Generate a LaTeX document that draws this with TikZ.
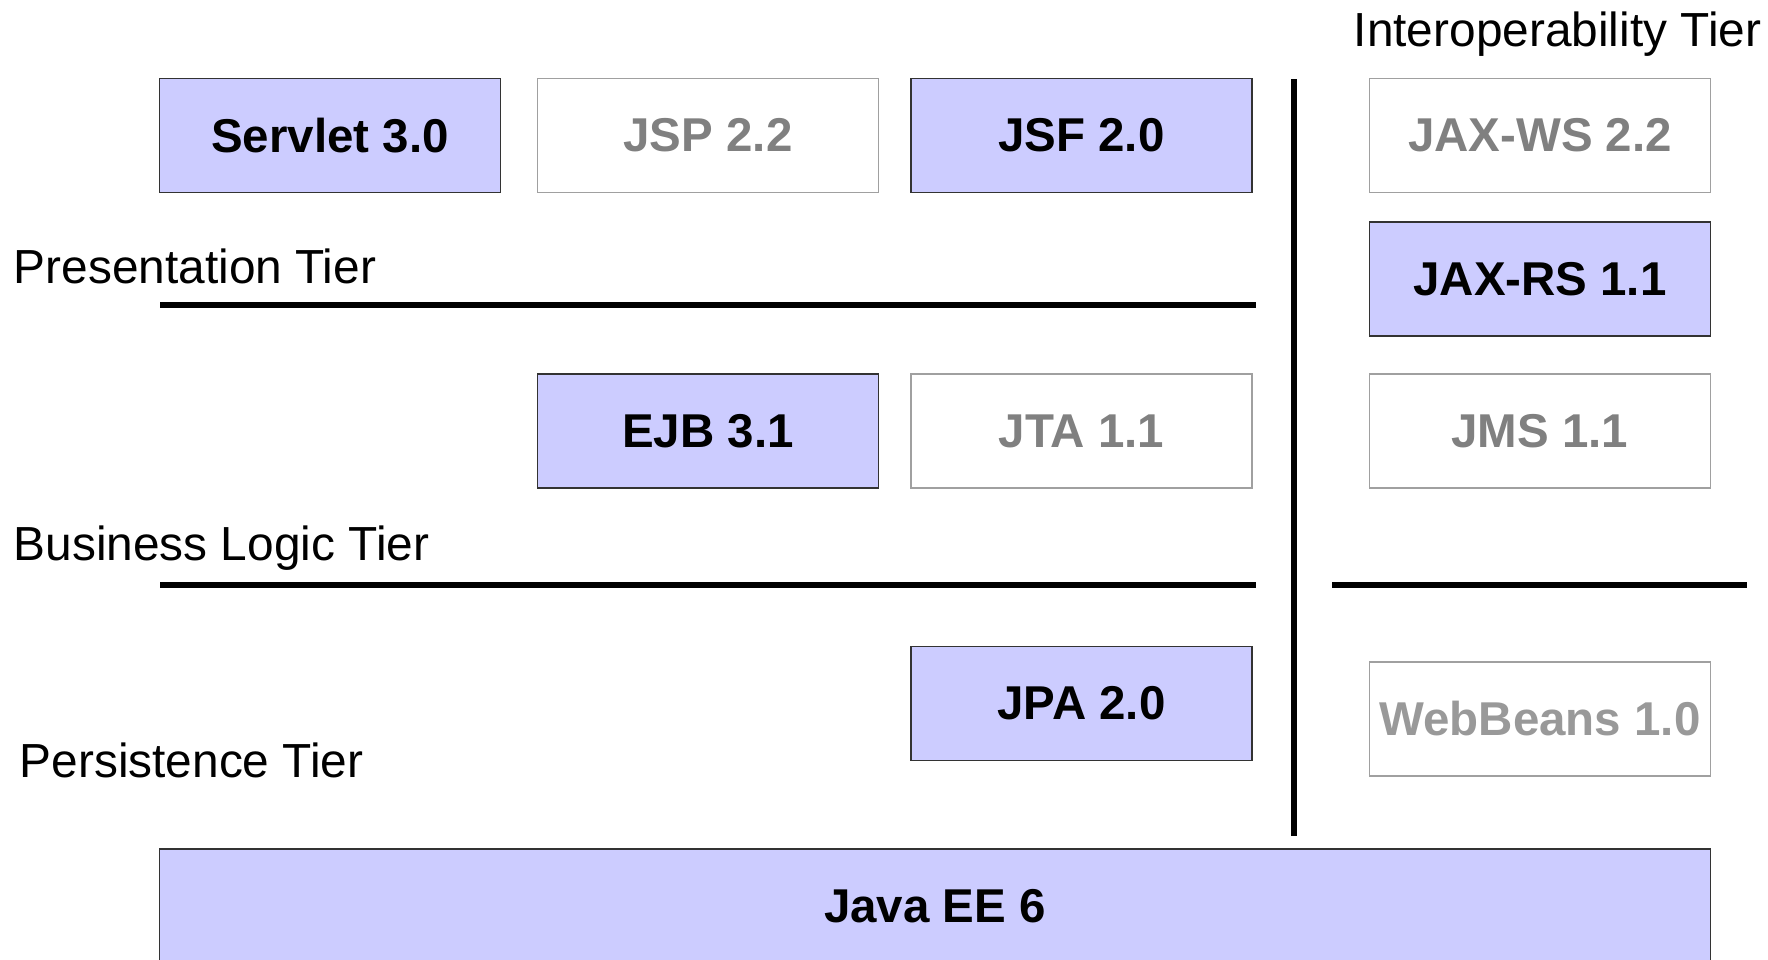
\documentclass[tikz,border=0pt]{standalone}
\usepackage{fontspec}
\setmainfont{Liberation Sans}
\usepackage{tikz}
\definecolor{specfill}{HTML}{CCCCFF}
\definecolor{specedge}{HTML}{333333}
\definecolor{greyedge}{HTML}{A0A0A0}
\definecolor{greytext}{HTML}{808080}
\definecolor{paletext}{HTML}{999999}
\tikzset{
  % spec boxes
  spec box/.style = {
     minimum width=3.41cm,
     minimum height=1.14cm,
     inner sep=0pt,
     line width=0.5pt,
     font=\fontsize{13.5}{16}\selectfont\bfseries,
  },
  core spec/.style = {
     spec box,
     fill=specfill,
     draw=specedge,
     text=black,
  },
  grey spec/.style = {
     spec box,
     fill=white,
     draw=greyedge,
     text=#1,
  },
  grey spec/.default=greytext,
  % tier names
  tier label/.style = {
     anchor=base west,
     inner sep=0pt,
     font=\fontsize{13.6}{16}\selectfont,
  },
  % separators
  tier line/.style = {
     line width=1.9pt,
  },
}
\begin{document}
\begin{tikzpicture}[x=0.01cm, y=-0.01cm]
      \useasboundingbox (0,0) rectangle (1768,959);
      \node[core spec] (servlet) at (330,135.5) {Servlet 3.0};
      \node[grey spec] (jsp) at (708,135.5) {JSP 2.2};
      \node[core spec] (jsf) at (1081.5,135.5) {JSF 2.0};
      \node[grey spec] (jaxws) at (1540,135.5) {JAX-WS 2.2};
      \node[core spec] (jaxrs) at (1540,279) {JAX-RS 1.1};
      \node[core spec] (ejb) at (708,431) {EJB 3.1};
      \node[grey spec] (jta) at (1081.5,431) {JTA 1.1};
      \node[grey spec] (jms) at (1540,431) {JMS 1.1};
      \node[core spec] (jpa) at (1081.5,703.5) {JPA 2.0};
      \node[grey spec=paletext] (webbeans) at (1540,719) {WebBeans 1.0};
      \node[core spec, minimum width=15.50cm] (javaee) at (935,906) {Java EE 6};
      \node[tier label] (presentation) at (13,283) {Presentation Tier};
      \node[tier label] (business) at (13,560) {Business Logic Tier};
      \node[tier label] (persistence) at (19,777) {Persistence Tier};
      \node[tier label, anchor=base east] (interop) at (1762,46) {Interoperability Tier};
      \coordinate (p west) at (160,305);
      \coordinate (p east) at (1256,305);
      \coordinate (b west) at (160,585);
      \coordinate (b east) at (1256,585);
      \coordinate (i west) at (1332,585);
      \coordinate (i east) at (1747,585);
      \coordinate (v top) at (1294,79);
      \coordinate (v bottom) at (1294,836);
      \draw[tier line] (p west) -- (p east);
      \draw[tier line] (b west) -- (b east);
      \draw[tier line] (i west) -- (i east);
      \draw[tier line] (v top) -- (v bottom);
    \end{tikzpicture}
\end{document}
